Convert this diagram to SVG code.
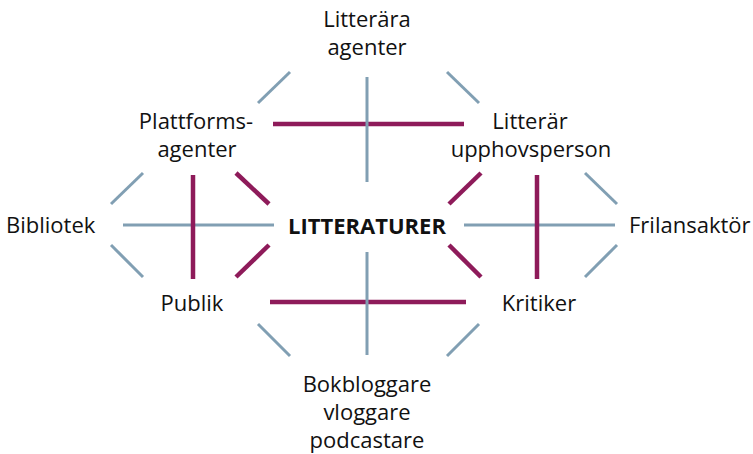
<svg xmlns="http://www.w3.org/2000/svg" width="753" height="454" viewBox="0 0 753 454">
<style>
text{font-family:"Open Sans","Liberation Sans",sans-serif;font-size:22px;fill:#111;}
.c{text-anchor:middle;}
.b{font-weight:bold;}
.g{stroke:#819fb3;stroke-width:3;fill:none;}
.p{stroke:#8e1b5a;stroke-width:4.5;fill:none;}
</style>
<rect width="753" height="454" fill="#fff"/>
<g id="connectors">
<line class="p" x1="273" y1="124" x2="464" y2="124"/>
<line class="p" x1="270" y1="302" x2="466" y2="302"/>
<line class="g" x1="258" y1="103" x2="290" y2="72"/>
<line class="g" x1="447" y1="72" x2="479" y2="103"/>
<line class="g" x1="367" y1="77" x2="367" y2="182"/>
<line class="g" x1="111" y1="204" x2="143" y2="173"/>
<line class="g" x1="123" y1="225" x2="274" y2="225"/>
<line class="g" x1="111" y1="245" x2="143" y2="277"/>
<line class="g" x1="464" y1="225" x2="615" y2="225"/>
<line class="g" x1="585" y1="173" x2="617" y2="204"/>
<line class="g" x1="617" y1="245" x2="585" y2="277"/>
<line class="g" x1="367" y1="252" x2="367" y2="355"/>
<line class="g" x1="258" y1="324" x2="290" y2="356"/>
<line class="g" x1="479" y1="324" x2="447" y2="356"/>
<line class="p" x1="193" y1="175" x2="193" y2="279"/>
<line class="p" x1="236" y1="173" x2="269" y2="204"/>
<line class="p" x1="269" y1="245" x2="236" y2="277"/>
<line class="p" x1="481" y1="173" x2="449" y2="204"/>
<line class="p" x1="449" y1="245" x2="481" y2="277"/>
<line class="p" x1="537" y1="175" x2="537" y2="279"/>
</g>
<g id="litterara-agenter"><text class="c" x="367" y="27">Litterära</text><text class="c" x="367" y="55">agenter</text></g>
<g id="plattformsagenter"><text class="c" x="196" y="129">Plattforms-</text><text class="c" x="197" y="157">agenter</text></g>
<g id="litterar-upphovsperson"><text class="c" x="530" y="129">Litterär</text><text class="c" x="531" y="157">upphovsperson</text></g>
<g id="bibliotek"><text x="6" y="233">Bibliotek</text></g>
<g id="litteraturer"><text class="c b" x="367" y="234">LITTERATURER</text></g>
<g id="frilansaktor"><text x="629" y="233">Frilansaktör</text></g>
<g id="publik"><text class="c" x="192" y="311">Publik</text></g>
<g id="kritiker"><text class="c" x="539" y="311">Kritiker</text></g>
<g id="bokbloggare"><text class="c" x="367" y="392">Bokbloggare</text><text class="c" x="367" y="420">vloggare</text><text class="c" x="367" y="448">podcastare</text></g>
</svg>
